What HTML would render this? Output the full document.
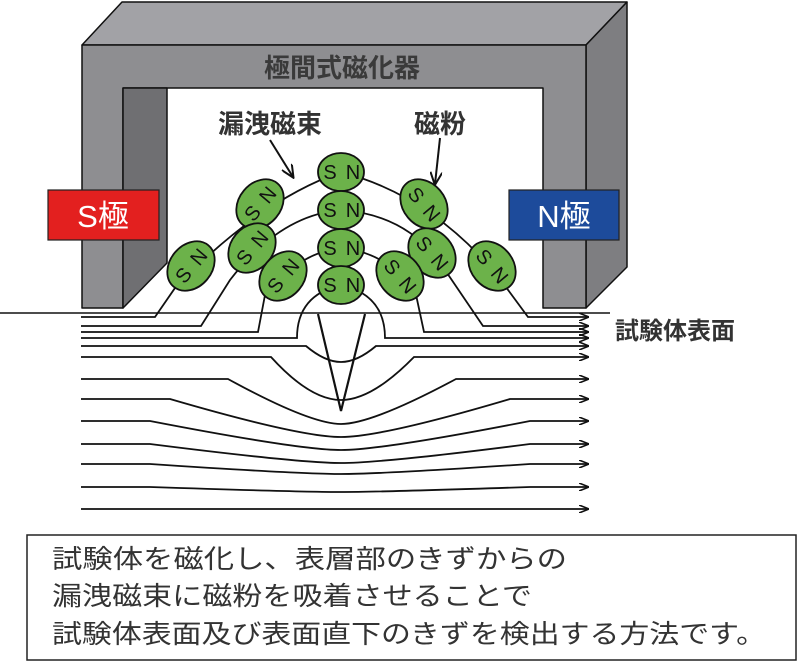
<!DOCTYPE html>
<html><head><meta charset="utf-8"><style>
html,body{margin:0;padding:0;background:#fff;}
svg{display:block;}
text{font-family:"Liberation Sans","Noto Sans CJK JP",sans-serif;}
</style></head><body>
<svg width="800" height="662" viewBox="0 0 800 662" xmlns="http://www.w3.org/2000/svg">
<defs>
<marker id="ah" markerWidth="10" markerHeight="8" refX="9" refY="4" orient="auto" markerUnits="userSpaceOnUse">
<path d="M0,0 L10,4 L0,8" fill="none" stroke="#111" stroke-width="1.6"/>
</marker>
<marker id="ah2" markerWidth="14" markerHeight="12" refX="12" refY="6" orient="auto" markerUnits="userSpaceOnUse">
<path d="M0,0 L13,6 L0,12" fill="none" stroke="#111" stroke-width="2"/>
</marker>
</defs>
<!-- magnet -->
<g stroke="#111" stroke-width="1.5" stroke-linejoin="round">
<polygon points="82,45 122,2 627,2 586,45" fill="#a2a2a6"/>
<polygon points="586,45 627,2 627,267 586,308" fill="#7e7e81"/>
<polygon points="82,45 586,45 586,308 543,308 543,88 123,88 123,308 82,308" fill="#8e8e91"/>
<polygon points="123,88 167,88 167,263 123,308" fill="#6f6f72"/>
</g>
<text x="342" y="77" font-size="26" font-weight="bold" fill="#3a3a3a" text-anchor="middle">極間式磁化器</text>
<rect x="48" y="190" width="111" height="50" fill="#e3201f" stroke="#222" stroke-width="1.2"/>
<text x="103" y="227" font-size="31" fill="#fff" text-anchor="middle">S極</text>
<rect x="509" y="190" width="110" height="50" fill="#1d4b9b" stroke="#222" stroke-width="1.2"/>
<text x="564" y="227" font-size="31" fill="#fff" text-anchor="middle">N極</text>
<text x="270" y="133" font-size="26" font-weight="bold" fill="#333" text-anchor="middle">漏洩磁束</text>
<text x="440" y="133" font-size="26" font-weight="bold" fill="#333" text-anchor="middle">磁粉</text>
<line x1="270" y1="140" x2="293" y2="177" stroke="#111" stroke-width="2" marker-end="url(#ah2)"/>
<line x1="440" y1="138" x2="435" y2="184" stroke="#111" stroke-width="2" marker-end="url(#ah2)"/>

<line x1="0" y1="313" x2="610" y2="313" stroke="#111" stroke-width="1.5"/>
<text x="615" y="339" font-size="24" font-weight="bold" fill="#333">試験体表面</text>

<g fill="none" stroke="#111" stroke-width="1.8">
<path d="M81,317 L155,317 L175,288 Q260,200 341,172 Q430,195 497,275 L528,317 L588,317" marker-end="url(#ah)"/>
<path d="M81,326 L201,326 L230,280 Q280,215 341,210 Q410,215 445,270 L483,326 L588,326" marker-end="url(#ah)"/>
<path d="M81,332 L258,332 L265,295 Q300,252 341,248 Q385,252 415,290 L424,332 L588,332" marker-end="url(#ah)"/>
<path d="M81,338 L297,338 Q297,295 341,285 Q385,295 385,338 L588,338" marker-end="url(#ah)"/>
<path d="M81,346 L306,346 Q325,362 341,362 Q357,362 376,346 L588,346" marker-end="url(#ah)"/>
<path d="M81,357 L271,357 Q310,400 341,400 Q372,400 414,357 L588,357" marker-end="url(#ah)"/>
<path d="M81,379 L228,379 Q310,424 341,424 Q372,424 456,379 L588,379" marker-end="url(#ah)"/>
<path d="M81,399 L170,399 Q300,437 341,437 Q382,437 510,399 L588,399" marker-end="url(#ah)"/>
<path d="M81,421 L150,421 Q300,450 341,450 Q382,450 530,421 L588,421" marker-end="url(#ah)"/>
<path d="M81,444 L150,444 Q300,463 341,463 Q382,463 530,444 L588,444" marker-end="url(#ah)"/>
<path d="M81,464 L150,464 Q300,474 341,474 Q382,474 530,464 L588,464" marker-end="url(#ah)"/>
<path d="M81,487 L150,487 Q300,492 341,492 Q382,492 530,487 L588,487" marker-end="url(#ah)"/>
<path d="M81,509 L588,509" marker-end="url(#ah)"/>
<path d="M318,314 L341,411 L365,314" stroke-width="2.2"/>
</g>

<g fill="#6cb24a" stroke="#111" stroke-width="1.8">
<ellipse cx="341" cy="172" rx="23" ry="19"/>
<ellipse cx="341" cy="210" rx="23" ry="19"/>
<ellipse cx="341" cy="248" rx="23" ry="19"/>
<ellipse cx="341" cy="285" rx="23" ry="19"/>
<ellipse cx="260" cy="204" rx="27" ry="21" transform="rotate(-50 260 204)"/>
<ellipse cx="252" cy="248" rx="27" ry="21" transform="rotate(-50 252 248)"/>
<ellipse cx="191" cy="266" rx="27" ry="21" transform="rotate(-50 191 266)"/>
<ellipse cx="283" cy="276" rx="27" ry="21" transform="rotate(-50 283 276)"/>
<ellipse cx="424" cy="204" rx="27" ry="21" transform="rotate(50 424 204)"/>
<ellipse cx="432" cy="253" rx="27" ry="21" transform="rotate(50 432 253)"/>
<ellipse cx="400" cy="276" rx="27" ry="21" transform="rotate(50 400 276)"/>
<ellipse cx="492" cy="266" rx="27" ry="21" transform="rotate(50 492 266)"/>
</g>
<g font-size="20" fill="#111" text-anchor="middle">
<text x="330" y="179">S</text><text x="353" y="179">N</text>
<text x="330" y="217">S</text><text x="353" y="217">N</text>
<text x="330" y="255">S</text><text x="353" y="255">N</text>
<text x="330" y="292">S</text><text x="353" y="292">N</text>
<g transform="rotate(-50 260 204)"><text x="248" y="211">S</text><text x="272" y="211">N</text></g>
<g transform="rotate(-50 252 248)"><text x="240" y="255">S</text><text x="264" y="255">N</text></g>
<g transform="rotate(-50 191 266)"><text x="179" y="273">S</text><text x="203" y="273">N</text></g>
<g transform="rotate(-50 283 276)"><text x="271" y="283">S</text><text x="295" y="283">N</text></g>
<g transform="rotate(50 424 204)"><text x="412" y="211">S</text><text x="436" y="211">N</text></g>
<g transform="rotate(50 432 253)"><text x="420" y="260">S</text><text x="444" y="260">N</text></g>
<g transform="rotate(50 400 276)"><text x="388" y="283">S</text><text x="412" y="283">N</text></g>
<g transform="rotate(50 492 266)"><text x="480" y="273">S</text><text x="504" y="273">N</text></g>
</g>

<rect x="27" y="535" width="769" height="125" fill="#fff" stroke="#222" stroke-width="1.5"/>
<g font-size="26" fill="#333">
<text x="52" y="568" textLength="515" lengthAdjust="spacingAndGlyphs">試験体を磁化し、表層部のきずからの</text>
<text x="52" y="605" textLength="480" lengthAdjust="spacingAndGlyphs">漏洩磁束に磁粉を吸着させることで</text>
<text x="52" y="643" textLength="714" lengthAdjust="spacingAndGlyphs">試験体表面及び表面直下のきずを検出する方法です。</text>
</g>
</svg>
</body></html>
